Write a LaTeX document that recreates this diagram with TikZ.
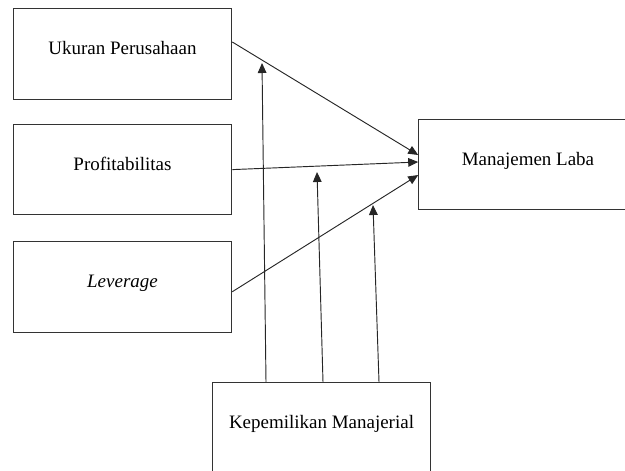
\documentclass[tikz,border=0pt]{standalone}
\usepackage{fontspec}
\setmainfont{Liberation Serif}
\usetikzlibrary{arrows.meta, positioning}

\begin{document}
\begin{tikzpicture}[
    x=0.03cm, y=-0.03cm,
    varbox/.style={draw=black!80, fill=white, line width=0.8pt, minimum width=6.56cm,
      minimum height=2.72cm, inner sep=0pt, align=center,
      font=\fontsize{16.2}{19}\selectfont, text height=11pt, text depth=10pt},
    arr/.style={-{Triangle[length=3mm,width=2.6mm]}, line width=0.8pt, draw=black!85}
  ]
    \useasboundingbox (0,0) rectangle (625,470);
    \clip (0,0) rectangle (625,470);
    \node[varbox] (uk) at (122.5,54) {Ukuran Perusahaan};
    \node[varbox, below=0.72cm of uk] (pr) {Profitabilitas};
    \node[varbox, below=0.78cm of pr] (lv) {\textit{Leverage}};
    \node[varbox] (ml) at (528,164.5) {Manajemen Laba};
    \node[varbox] (km) at (321.5,428) {Kepemilikan Manajerial};
    % moderating paths end just under the main lines
    \coordinate (m1) at (262,63);
    \coordinate (m2) at (317,172);
    \coordinate (m3) at (373,205);
    \draw[arr] ([yshift=0.36cm]uk.east) -- ([yshift=0.285cm]ml.west);
    \draw[arr] (pr.east) -- ([yshift=0.075cm]ml.west);
    \draw[arr] ([yshift=-0.135cm]lv.east) -- ([yshift=-0.315cm]ml.west);
    \draw[arr] ([xshift=-1.665cm]km.north) -- (m1);
    \draw[arr] ([xshift=0.045cm]km.north) -- (m2);
    \draw[arr] ([xshift=1.725cm]km.north) -- (m3);
  \end{tikzpicture}
\end{document}
